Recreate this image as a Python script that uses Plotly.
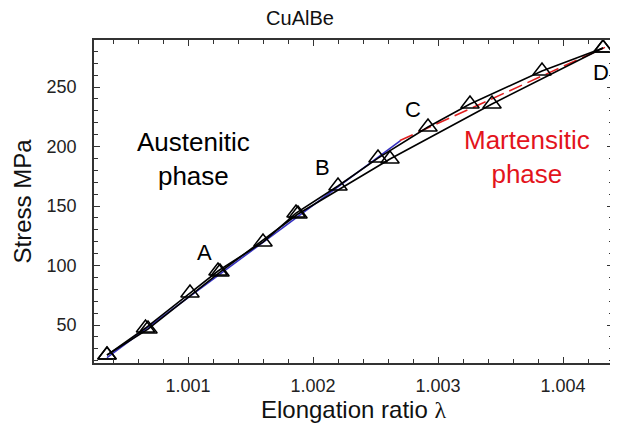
import plotly.graph_objects as go

# Loading branch (elongation ratio, stress MPa)
load_x = [1.000352, 1.000660, 1.001016, 1.001240, 1.001600, 1.001864, 1.002200, 1.002520, 1.002920, 1.003256, 1.003832, 1.004320]
load_y = [24.8, 47.5, 76.9, 95.4, 119.7, 144.1, 166.8, 190.3, 216.4, 235.7, 263.4, 282.8]
# Unloading branch
unload_x = [1.004320, 1.003432, 1.002616, 1.001880, 1.001256, 1.000680, 1.000352]
unload_y = [282.8, 235.7, 189.5, 143.3, 94.5, 46.6, 24.8]
# Linear fit, austenitic phase (blue)
aus_x = [1.000352, 1.002700]
aus_y = [22.6, 205.0]
# Linear fit, martensitic phase (red dashed)
mar_x = [1.002696, 1.004336]
mar_y = [205.0, 283.3]

point_labels = ["A", "B", "C", "D"]
point_label_x = [1.001128, 1.002072, 1.002800, 1.004304]
point_label_y = [111.3, 182.4, 230.7, 261.8]

x_tickvals = [1.001, 1.002, 1.003, 1.004]
x_ticktext = ["1.001", "1.002", "1.003", "1.004"]
y_tickvals = [50, 100, 150, 200, 250]
y_ticktext = ["50", "100", "150", "200", "250"]

FONT = "Liberation Sans, Arial, Helvetica, sans-serif"

# page body has an 8px margin; figure is sized so it ends at the window edge
W, H = 610, 415

fig = go.Figure()
fig.add_trace(go.Scatter(x=aus_x, y=aus_y, mode="lines",
                         line=dict(color="#3530c0", width=1.6), showlegend=False))
fig.add_trace(go.Scatter(x=mar_x, y=mar_y, mode="lines",
                         line=dict(color="#e02020", width=1.6, dash="14px,6px"), showlegend=False))
fig.add_trace(go.Scatter(x=load_x, y=load_y, mode="lines+markers",
                         line=dict(color="black", width=1.6),
                         marker=dict(symbol="triangle-up-open", size=16, color="black",
                                     line=dict(width=1.5, color="black")),
                         showlegend=False))
fig.add_trace(go.Scatter(x=unload_x, y=unload_y, mode="lines+markers",
                         line=dict(color="black", width=1.6),
                         marker=dict(symbol="triangle-up-open", size=16, color="black",
                                     line=dict(width=1.5, color="black")),
                         showlegend=False))

for t, x, y in zip(point_labels, point_label_x, point_label_y):
    fig.add_annotation(x=x, y=y, text=t, showarrow=False,
                       font=dict(family=FONT, size=22, color="black"))

fig.add_annotation(x=1.00104, y=189.5, text="Austenitic<br>phase", showarrow=False,
                   font=dict(family=FONT, size=26, color="black"))
fig.add_annotation(x=1.003712, y=191.6, text="Martensitic<br>phase", showarrow=False,
                   font=dict(family=FONT, size=26, color="#e3141c"))

# thick dark right border as in the reference
fig.add_shape(type="rect", xref="paper", yref="paper", x0=1.0, x1=1.012, y0=-0.002, y1=1.0,
              fillcolor="black", line=dict(width=0), layer="above")

axis_common = dict(showgrid=False, zeroline=False, showline=True, linecolor="#333333",
                   linewidth=1.5, mirror="allticks", ticks="inside", tickcolor="#333333",
                   ticklen=6, tickwidth=1.2,
                   tickfont=dict(family=FONT, size=18, color="#222222"))

fig.update_xaxes(range=[1.000248, 1.0044], tickvals=x_tickvals, ticktext=x_ticktext,
                 minor=dict(dtick=0.0002, tick0=1.0, ticks="inside", ticklen=4, tickcolor="#333333"),
                 title=dict(text="Elongation ratio <span style='font-family:Liberation Serif, serif'>λ</span>",
                            font=dict(family=FONT, size=24, color="#111111"), standoff=12),
                 ticklabelstandoff=6,
                 **axis_common)
fig.update_yaxes(range=[18.1, 289.5], tickvals=y_tickvals, ticktext=y_ticktext,
                 minor=dict(dtick=10, tick0=0, ticks="inside", ticklen=4, tickcolor="#333333"),
                 title=dict(text="Stress MPa", font=dict(family=FONT, size=24, color="#111111"),
                            standoff=8),
                 ticklabelstandoff=12,
                 **axis_common)

fig.update_layout(
    width=W, height=H,
    margin=dict(l=86, r=5, t=32, b=60, autoexpand=False),
    paper_bgcolor="white", plot_bgcolor="white",
    title=dict(text="CuAlBe", x=292/W, xref="container", xanchor="center",
               y=1 - 10/H, yref="container", yanchor="middle",
               font=dict(family=FONT, size=20, color="#111111")),
)

fig.write_html("out.html")
